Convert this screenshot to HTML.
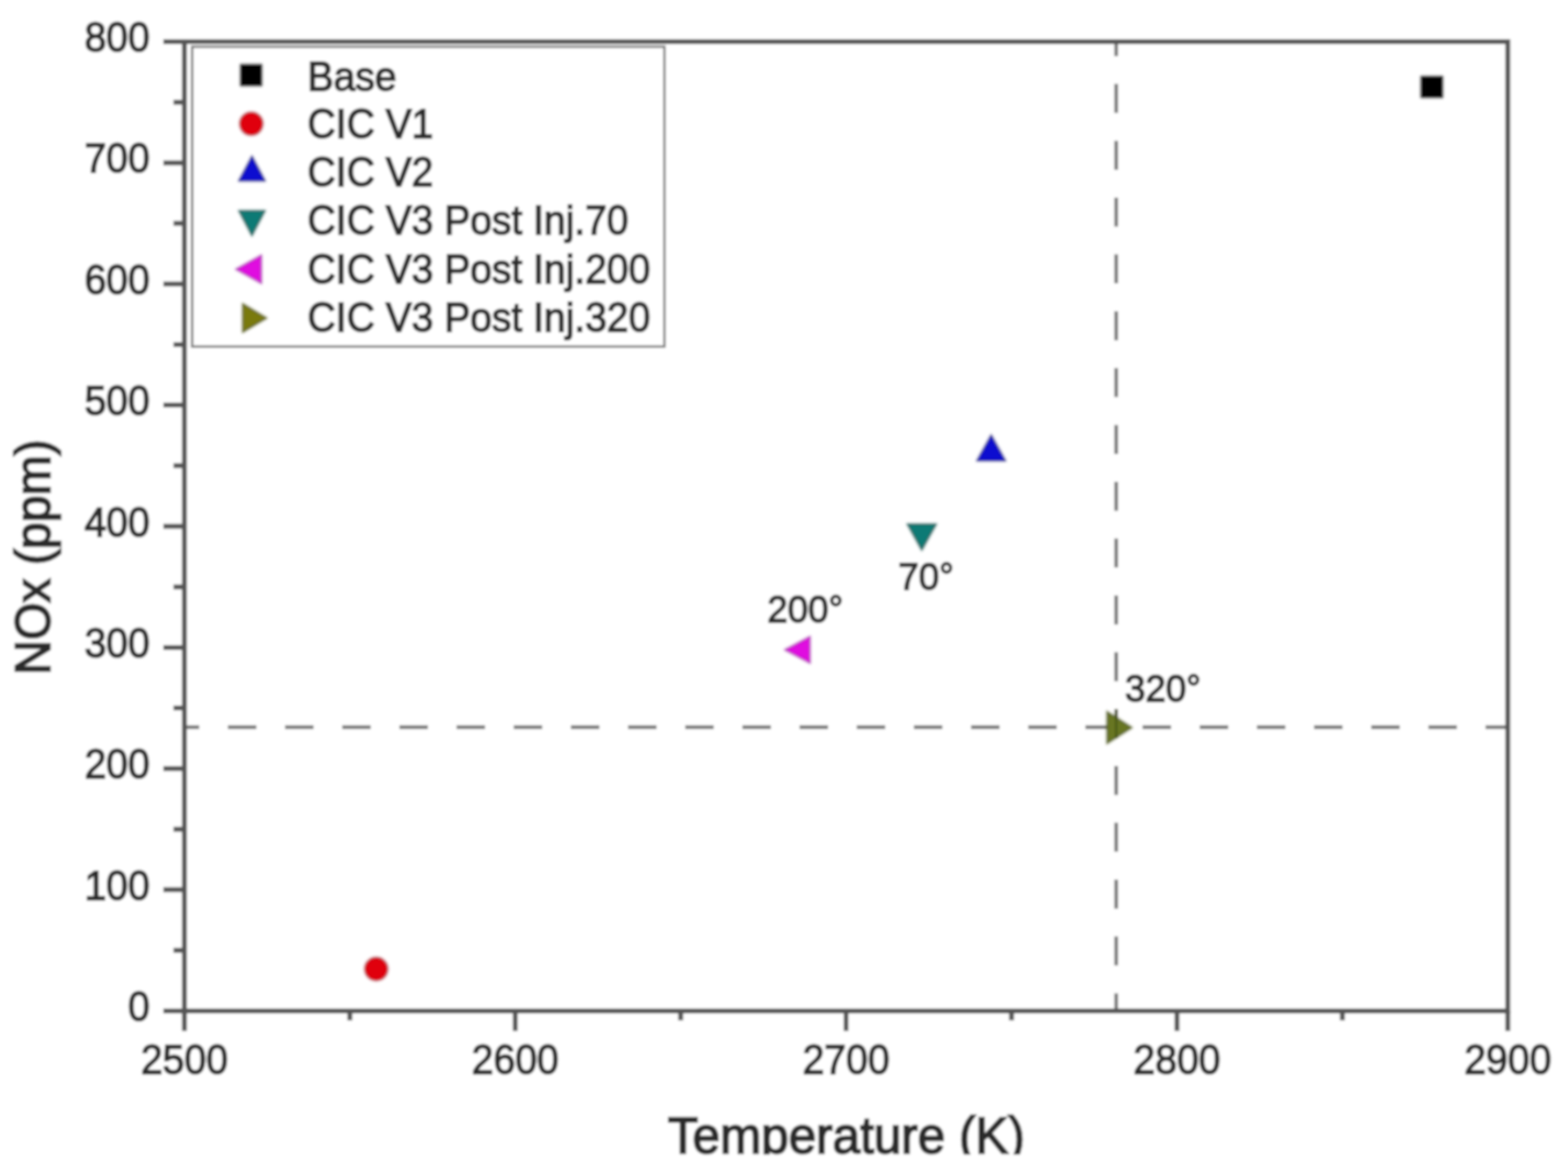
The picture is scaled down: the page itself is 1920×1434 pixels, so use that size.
<!DOCTYPE html><html><head><meta charset="utf-8"><title>NOx vs Temperature</title><style>html,body{margin:0;padding:0;background:#fff;overflow:hidden;}svg{display:block;}text{font-family:"Liberation Sans",Arial,Helvetica,sans-serif;}</style></head><body>
<svg width="1920" height="1434" viewBox="0 0 1920 1434">
<defs><filter id="b" x="0" y="0" width="1" height="1"><feGaussianBlur stdDeviation="1.6"/></filter><filter id="m" x="-20%" y="-20%" width="140%" height="140%"><feGaussianBlur stdDeviation="1.2"/></filter></defs>
<rect width="1920" height="1434" fill="#fff"/>
<g filter="url(#b)">
<rect width="1920" height="1434" fill="#fff"/>
<line x1="225.8" y1="890.4" x2="1846.3" y2="890.4" stroke="#747474" stroke-width="4.5" stroke-dasharray="35.0 35.0" stroke-dashoffset="16.80"/>
<line x1="1366.8" y1="51.0" x2="1366.8" y2="1238.0" stroke="#747474" stroke-width="4.5" stroke-dasharray="35.5 34.099999999999994" stroke-dashoffset="17.80"/>
<rect x="225.8" y="51.0" width="1620.5" height="1187.0" fill="none" stroke="#555555" stroke-width="6"/>
<path d="M200 1238.0H225.8 M212.5 1163.8H225.8 M200 1089.6H225.8 M212.5 1015.4H225.8 M200 941.2H225.8 M212.5 867.1H225.8 M200 792.9H225.8 M212.5 718.7H225.8 M200 644.5H225.8 M212.5 570.3H225.8 M200 496.1H225.8 M212.5 421.9H225.8 M200 347.8H225.8 M212.5 273.6H225.8 M200 199.4H225.8 M212.5 125.2H225.8 M200 51.0H225.8 M225.8 1238.0V1262.5 M428.4 1238.0V1249.5 M630.9 1238.0V1262.5 M833.5 1238.0V1249.5 M1036.0 1238.0V1262.5 M1238.6 1238.0V1249.5 M1441.2 1238.0V1262.5 M1643.7 1238.0V1249.5 M1846.3 1238.0V1262.5" stroke="#555555" stroke-width="6" fill="none"/>
<rect x="235.3" y="57.2" width="578.3" height="367.2" fill="#fff" stroke="#7c7c7c" stroke-width="3"/>
<g fill="#2b2b2b" stroke="#2b2b2b" stroke-width="1.75">
<text font-size="48" text-anchor="end" transform="translate(183.50 1250.00) scale(1.0 1.04)">0</text>
<text font-size="48" text-anchor="end" transform="translate(183.50 1101.62) scale(1.0 1.04)">100</text>
<text font-size="48" text-anchor="end" transform="translate(183.50 953.25) scale(1.0 1.04)">200</text>
<text font-size="48" text-anchor="end" transform="translate(183.50 804.88) scale(1.0 1.04)">300</text>
<text font-size="48" text-anchor="end" transform="translate(183.50 656.50) scale(1.0 1.04)">400</text>
<text font-size="48" text-anchor="end" transform="translate(183.50 508.12) scale(1.0 1.04)">500</text>
<text font-size="48" text-anchor="end" transform="translate(183.50 359.75) scale(1.0 1.04)">600</text>
<text font-size="48" text-anchor="end" transform="translate(183.50 211.38) scale(1.0 1.04)">700</text>
<text font-size="48" text-anchor="end" transform="translate(183.50 63.00) scale(1.0 1.04)">800</text>
<text font-size="48" text-anchor="middle" transform="translate(225.80 1314.50) scale(1.0 1.04)">2500</text>
<text font-size="48" text-anchor="middle" transform="translate(630.92 1314.50) scale(1.0 1.04)">2600</text>
<text font-size="48" text-anchor="middle" transform="translate(1036.05 1314.50) scale(1.0 1.04)">2700</text>
<text font-size="48" text-anchor="middle" transform="translate(1441.17 1314.50) scale(1.0 1.04)">2800</text>
<text font-size="48" text-anchor="middle" transform="translate(1846.30 1314.50) scale(1.0 1.04)">2900</text>
<text font-size="47.8" transform="translate(376.60 110.50) scale(1.0 1.04)">Base</text>
<text font-size="47.8" transform="translate(376.60 168.50) scale(1.0 1.04)">CIC V1</text>
<text font-size="47.8" transform="translate(376.60 227.50) scale(1.0 1.04)">CIC V2</text>
<text font-size="47.8" transform="translate(376.60 287.00) scale(1.0 1.04)">CIC V3 Post Inj.70</text>
<text font-size="47.8" transform="translate(376.60 346.50) scale(1.0 1.04)">CIC V3 Post Inj.200</text>
<text font-size="47.8" transform="translate(376.60 405.50) scale(1.0 1.04)">CIC V3 Post Inj.320</text>
<text font-size="45" transform="translate(1100.00 721.50) scale(1.0 1.04)">70°</text>
<text font-size="45" transform="translate(939.50 761.50) scale(1.0 1.04)">200°</text>
<text font-size="45" transform="translate(1377.50 859.00) scale(1.0 1.04)">320°</text>
<g stroke-width="2.3">
<text font-size="59" text-anchor="middle" transform="translate(61.00 682.20) rotate(-90) scale(1.0 1.04)">NOx (ppm)</text>
<text font-size="60.5" text-anchor="middle" transform="translate(1036.30 1412.30) scale(1.0 1.04)">Temperature (K)</text>
</g>
</g>
<g filter="url(#m)">
<rect x="294.5" y="79" width="26.0" height="26.0" fill="#000" stroke="#000" stroke-width="1.2"/>
<circle cx="307.7" cy="151.5" r="14" fill="#e00010" stroke="#a81c28" stroke-width="1.6"/>
<polygon points="308.5,191.5 324.5,221.5 292.5,221.5" fill="#0808d0" stroke="#141478" stroke-width="1.6" stroke-linejoin="miter"/>
<polygon points="292.5,258.0 324.5,258.0 308.5,288.5" fill="#0e7a74" stroke="#0c4e4a" stroke-width="1.6" stroke-linejoin="miter"/>
<polygon points="289.0,329.8 320.0,312.5 320.0,347.0" fill="#e010e0" stroke="#a020a8" stroke-width="1.6" stroke-linejoin="miter"/>
<polygon points="297.2,372.0 326.5,389.4 297.2,406.8" fill="#7a7a08" stroke="#4e5208" stroke-width="1.6" stroke-linejoin="miter"/>
<rect x="1740" y="93.5" width="26.5" height="26.0" fill="#000" stroke="#000" stroke-width="1.2"/>
<circle cx="460.7" cy="1186.6" r="14" fill="#e00010" stroke="#a81c28" stroke-width="1.6"/>
<polygon points="1213.7,533.0 1231.1,564.2 1196.3,564.2" fill="#0808d0" stroke="#141478" stroke-width="1.6" stroke-linejoin="miter"/>
<polygon points="1111.0,641.8 1146.4,641.8 1128.7,673.5" fill="#0e7a74" stroke="#0c4e4a" stroke-width="1.6" stroke-linejoin="miter"/>
<polygon points="961.2,795.8 991.8,779.6 991.8,812.0" fill="#e010e0" stroke="#a020a8" stroke-width="1.6" stroke-linejoin="miter"/>
<polygon points="1355.5,871.5 1386.0,891.0 1355.5,910.5" fill="#687624" stroke="#4a5414" stroke-width="1.6" stroke-linejoin="miter"/>
</g>
<line x1="1366.8" y1="868.4" x2="1366.8" y2="903.9" stroke="#3a4a08" stroke-width="3" opacity="0.6"/>
<rect x="0" y="1414" width="1920" height="20" fill="#fff"/>
</g>
</svg></body></html>
